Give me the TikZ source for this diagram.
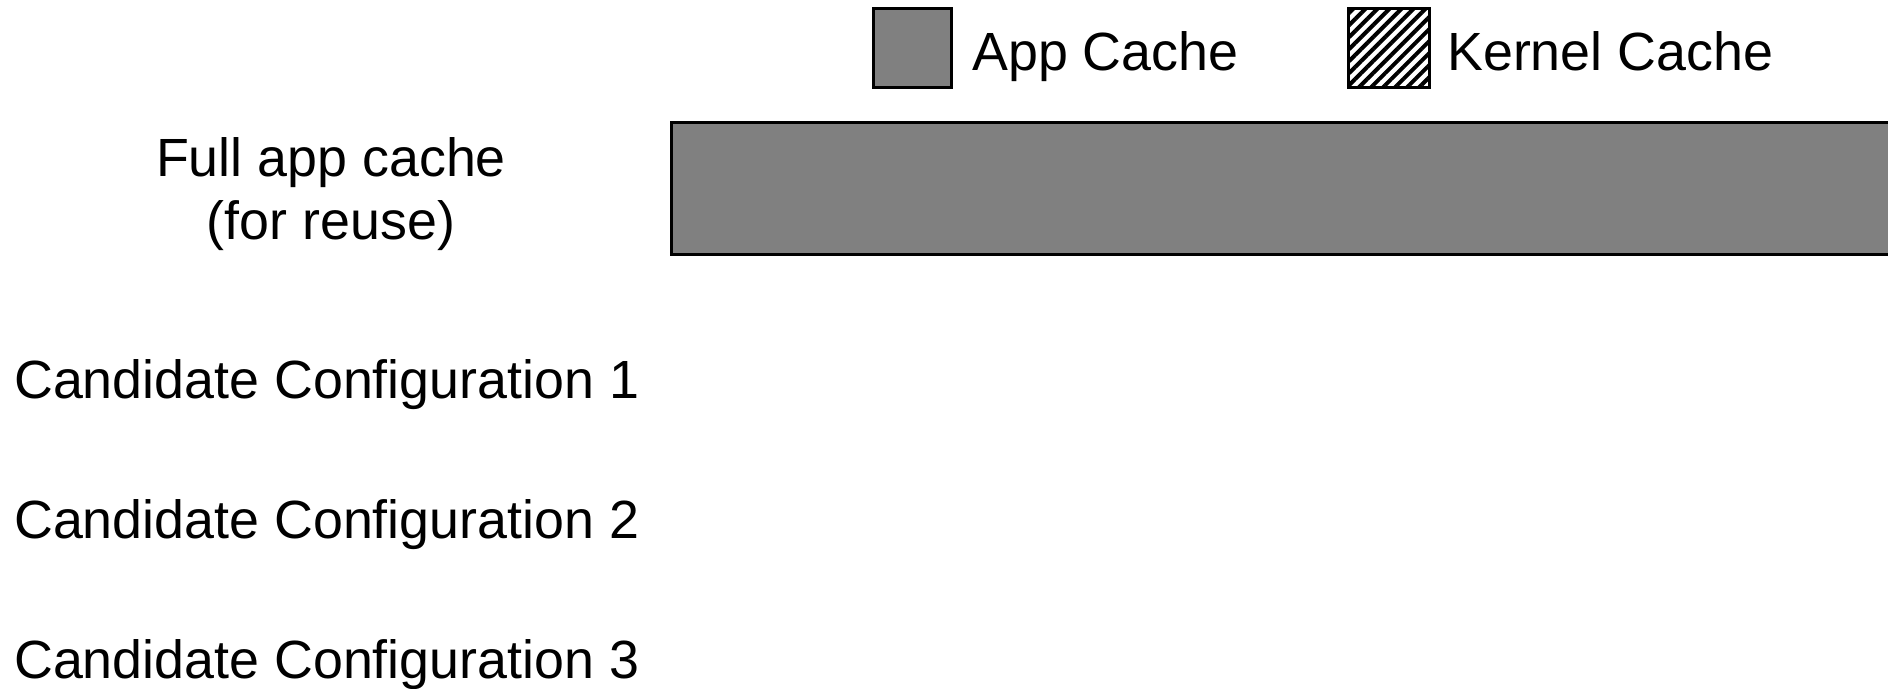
\documentclass[tikz,border=0pt]{standalone}
\usepackage{fontspec}
\setmainfont{Liberation Sans}
\usetikzlibrary{patterns.meta}
\begin{document}
\begin{tikzpicture}[x=1bp,y=-1bp,
  lbl/.style={font=\fontsize{54}{62}\selectfont, inner sep=0pt},
  swatch/.style={draw=black, line width=3bp},
  appfill/.style={fill=gray},
  kernfill/.style={pattern={Lines[angle=45,distance=8.5bp,line width=4bp]}, pattern color=black}]
  \useasboundingbox (0,0) rectangle (1888,689);
  % legend
  \draw[swatch, appfill] (873,9) rectangle (951,88);
  \node[lbl, anchor=base west] (lapp) at (972,71) {App Cache};
  \draw[swatch, kernfill] (1348,9) rectangle (1429,88);
  \node[lbl, anchor=base west] (lkern) at (1447,71) {Kernel Cache};
  % full app cache bar
  \draw[swatch, appfill] (671,123) rectangle (1895,254);
  \node[lbl, align=center, anchor=base] (full) at (331,177) {Full app cache};
  \node[lbl, anchor=base] (reuse) at (331,239) {(for reuse)};
  % candidate rows
  \node[lbl, anchor=base west] (c1) at (14,398) {Candidate Configuration 1};
  \node[lbl, anchor=base west] (c2) at (14,538) {Candidate Configuration 2};
  \node[lbl, anchor=base west] (c3) at (14,678) {Candidate Configuration 3};
\end{tikzpicture}
\end{document}
